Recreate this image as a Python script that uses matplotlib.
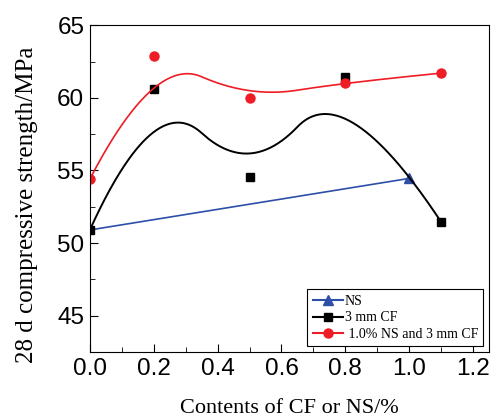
import numpy as np
from matplotlib import pyplot as plt
from matplotlib import font_manager
from matplotlib.ticker import MultipleLocator

# data
ns_x = [0.0, 1.0]
ns_y = [50.9, 54.45]
cf_x = [0.0, 0.2, 0.5, 0.8, 1.1]
cf_y = [50.9, 60.6, 54.55, 61.45, 51.45]
mix_x = [0.0, 0.2, 0.5, 0.8, 1.1]
mix_y = [54.4, 62.9, 60.0, 61.05, 61.7]


def bspline(xs, ys, k=2, n=300):
    # clamped B-spline with the points as control points (Origin style)
    P = np.column_stack([xs, ys])
    m = len(P)
    knots = np.concatenate([np.zeros(k), np.linspace(0, 1, m - k + 1), np.ones(k)])
    out = []
    for t in np.linspace(0, 1 - 1e-9, n):
        N = np.array([1.0 if knots[i] <= t < knots[i + 1] else 0.0 for i in range(len(knots) - 1)])
        for d in range(1, k + 1):
            Nn = np.zeros(len(knots) - 1 - d)
            for i in range(len(Nn)):
                a = 0.0
                if knots[i + d] != knots[i]:
                    a = (t - knots[i]) / (knots[i + d] - knots[i]) * N[i]
                b = 0.0
                if knots[i + d + 1] != knots[i + 1]:
                    b = (knots[i + d + 1] - t) / (knots[i + d + 1] - knots[i + 1]) * N[i + 1]
                Nn[i] = a + b
            N = Nn
        out.append(N @ P)
    out.append(P[-1])
    out = np.array(out)
    return out[:, 0], out[:, 1]


installed = {f.name for f in font_manager.fontManager.ttflist}
if 'Liberation Sans Narrow' in installed:
    tick_font, tick_size = 'Liberation Sans Narrow', 20
else:
    tick_font, tick_size = 'Liberation Sans', 17.5

fig, ax = plt.subplots(figsize=(4.91, 4.2), dpi=100)
fig.subplots_adjust(left=0.183, right=0.996, top=0.94, bottom=0.162)

ax.plot(ns_x, ns_y, color='#2e4fa8', lw=1.2)
ax.plot(ns_x[1:], ns_y[1:], '^', color='#2e4fa8', ms=7)

bx, by = bspline(cf_x, cf_y)
ax.plot(bx, by, color='black', lw=1.4)
ax.plot(cf_x, cf_y, 's', color='black', ms=6)

rx, ry = bspline(mix_x, mix_y)
ax.plot(rx, ry, color='#ee1c24', lw=1.2)
ax.plot(mix_x, mix_y, 'o', color='#ee1c24', ms=6.5)

# legend proxies
ax.plot([], [], '^-', color='#2e4fa8', ms=7, label='NS')
ax.plot([], [], 's-', color='black', ms=6, label='3 mm CF')
ax.plot([], [], 'o-', color='#ee1c24', ms=6.5, label=' 1.0% NS and 3 mm CF')
h, l = ax.get_legend_handles_labels()
leg = ax.legend(h[-3:], l[-3:], loc='lower right', fancybox=False, edgecolor='black',
                prop={'family': 'Liberation Serif', 'size': 10},
                handlelength=2.2, handletextpad=0.1, labelspacing=0.25,
                borderaxespad=0.4, framealpha=1)
leg.get_frame().set_linewidth(0.8)

ax.set_xlim(0, 1.25)
ax.set_ylim(42.5, 65)
ax.xaxis.set_major_locator(MultipleLocator(0.2))
ax.xaxis.set_minor_locator(MultipleLocator(0.1))
ax.yaxis.set_minor_locator(MultipleLocator(2.5))
ax.set_yticks([45, 50, 55, 60, 65])
ax.tick_params(which='both', direction='in', top=False, right=False)
ax.tick_params(which='major', length=6, labelsize=tick_size, pad=4)
ax.tick_params(which='minor', length=3.5)
for lab in ax.get_xticklabels() + ax.get_yticklabels():
    lab.set_family(tick_font)

ax.set_xlabel('Contents of CF or NS/%', family='Liberation Serif', fontsize=16, labelpad=14)
ax.set_ylabel('28 d compressive strength/MPa', family='Liberation Serif', fontsize=18)
ax.yaxis.set_label_coords(-0.13, 0.45)

plt.savefig('out.png', dpi=100)
